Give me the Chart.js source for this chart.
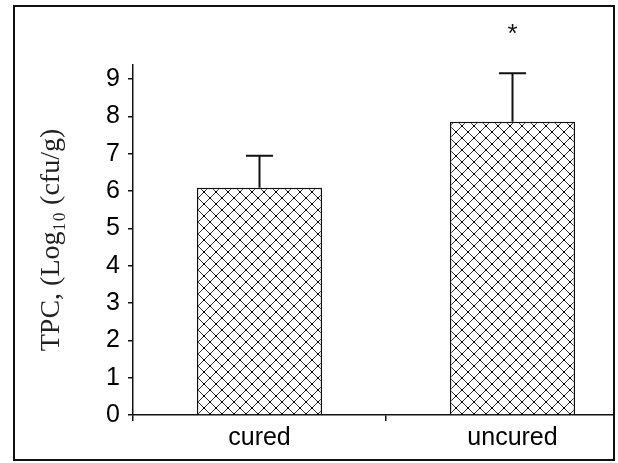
<!DOCTYPE html>
<html lang="en">
  <head>
    <meta charset="UTF-8" />
    <title>TPC cured vs uncured</title>
    <script src="https://cdn.jsdelivr.net/npm/chart.js"></script>
    <style>
      html, body { margin: 0; padding: 0; background: #fff; overflow: hidden; }
      .frame {
        position: absolute;
        left: 13px;
        top: 5px;
        width: 598px;
        height: 452px;
        border: 2px solid #111;
        overflow: hidden;
      }
      .frame canvas { position: absolute; left: -15px; top: -7px; }
    </style>
  </head>

  <body>
    <div class="frame">
      <canvas id="tpcChart" width="650" height="463"></canvas>
    </div>

    <script>
      // data
      const groups = ["cured", "uncured"];
      const meanTPC = [6.09, 7.86];
      const sdTPC = [0.86, 1.3];
      const marks = ["", "*"]; // significance marks
      const yTicks = [0, 1, 2, 3, 4, 5, 6, 7, 8, 9];

      // cross-hatch fill for the bars
      function makeHatch() {
        const c = document.createElement("canvas");
        c.width = 12;
        c.height = 12;
        const g = c.getContext("2d");
        g.fillStyle = "#fff";
        g.fillRect(0, 0, 12, 12);
        g.strokeStyle = "#333";
        g.lineWidth = 1;
        g.beginPath();
        g.moveTo(0, 0);
        g.lineTo(12, 12);
        g.moveTo(12, 0);
        g.lineTo(0, 12);
        g.stroke();
        g.fillStyle = "#000";
        g.fillRect(5, 5, 2, 2);
        g.fillRect(0, 0, 1, 1);
        g.fillRect(11, 0, 1, 1);
        g.fillRect(0, 11, 1, 1);
        g.fillRect(11, 11, 1, 1);
        return g.createPattern(c, "repeat");
      }

      // upward error bars + asterisk
      const errorBars = {
        id: "errorBars",
        afterDatasetsDraw(chart) {
          const ctx = chart.ctx;
          const y = chart.scales.y;
          const meta = chart.getDatasetMeta(0);
          ctx.save();
          ctx.strokeStyle = "#111";
          ctx.lineWidth = 2;
          meta.data.forEach((bar, i) => {
            const top = y.getPixelForValue(meanTPC[i] + sdTPC[i]);
            ctx.beginPath();
            ctx.moveTo(bar.x, bar.y);
            ctx.lineTo(bar.x, top);
            ctx.moveTo(bar.x - 13.5, top);
            ctx.lineTo(bar.x + 13.5, top);
            ctx.stroke();
            if (marks[i]) {
              ctx.fillStyle = "#111";
              ctx.font = "26px 'Liberation Sans'";
              ctx.textAlign = "center";
              ctx.textBaseline = "alphabetic";
              ctx.fillText(marks[i], bar.x, chart.chartArea.top - 23);
            }
          });
          ctx.restore();
        },
      };

      Chart.defaults.color = "#000";
      Chart.defaults.font.family = "'Liberation Sans', Arial, sans-serif";

      const tpcChart = new Chart(document.getElementById("tpcChart"), {
        type: "bar",
        data: {
          labels: groups,
          datasets: [
            {
              data: meanTPC,
              backgroundColor: makeHatch(),
              borderColor: "#111",
              borderWidth: 1.5,
              barPercentage: 0.495,
              categoryPercentage: 1,
            },
          ],
        },
        options: {
          responsive: false,
          animation: false,
          layout: { padding: { top: 65, right: 11, left: 0, bottom: 0 } },
          plugins: { legend: { display: false }, tooltip: { enabled: false } },
          scales: {
            x: {
              afterFit: (s) => { s.height = 48; },
              grid: { drawOnChartArea: false, tickLength: 6, color: "#111", lineWidth: 1.5 },
              border: { color: "#111", width: 1.5 },
              ticks: { padding: 2, font: { size: 25 }, color: "#000" },
            },
            y: {
              min: 0,
              max: 9.38,
              afterFit: (s) => { s.width = 133; },
              afterBuildTicks: (s) => {
                s.ticks = yTicks.map((v) => ({ value: v }));
              },
              grid: { drawOnChartArea: false, tickLength: 5, color: "#111", lineWidth: 1.5 },
              border: { color: "#111", width: 1.5 },
              ticks: { padding: 8, font: { size: 25 }, color: "#000" },
              title: {
                display: true,
                text: "TPC, (Log₁₀ (cfu/g)",
                font: { family: "'Liberation Serif', serif", size: 28 },
                color: "#222",
                padding: { top: 35, bottom: 0 },
              },
            },
          },
        },
        plugins: [errorBars],
      });
    </script>
  </body>
</html>
